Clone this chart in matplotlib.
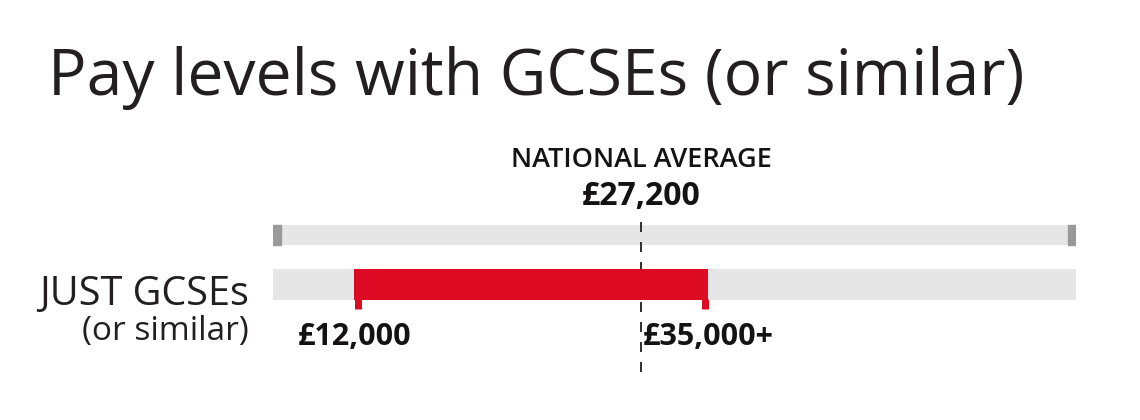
import numpy as np
import matplotlib
matplotlib.use("Agg")
import matplotlib.pyplot as plt
from matplotlib.patches import Rectangle
from matplotlib.transforms import offset_copy

plt.rcParams['font.family'] = ['Open Sans', 'DejaVu Sans']

# data
title = "Pay levels with GCSEs (or similar)"
categories = ["JUST GCSEs"]
subtitles = ["(or similar)"]
pay_low = [12000]
pay_high = [35000]
low_labels = ["£12,000"]
high_labels = ["£35,000+"]
national_avg = 27200
avg_label = "£27,200"
scale_min, scale_max = 10000, 500000   # ends of the grey scale bar

RED = "#dc0a23"
GREY = "#e6e6e6"
CAP = "#9a9a9a"
INK = "#141213"

W, H = 1140, 420
fig = plt.figure(figsize=(W / 100, H / 100), dpi=100)

# axes covers the bar area horizontally, y runs in pixels from the top
ax = fig.add_axes([273 / W, 0, 803 / W, 1])
ax.set_xscale('function', functions=(lambda x: -1 / np.sqrt(x), lambda y: 1 / y ** 2))
ax.set_xlim(scale_min, scale_max)
ax.set_ylim(H, 0)
ax.axis('off')

# grey scale bar with end caps
ax.barh(235, scale_max - scale_min, left=scale_min, height=20, color=GREY, zorder=1)
cap_w = 8 / 803
for x0 in (0, 1 - cap_w):
    ax.add_patch(Rectangle((x0, 225), cap_w, 20, color=CAP,
                           transform=ax.get_yaxis_transform(), zorder=2))

# national average dashed line
ax.vlines(national_avg, 222, 380, colors="#333333", lw=1.44,
          linestyles=(0, (5, 5)), zorder=2)

# range rows
row_y = 284.5
for i, cat in enumerate(categories):
    ax.barh(row_y, scale_max - scale_min, left=scale_min, height=31, color=GREY, zorder=1)
    ax.barh(row_y, pay_high[i] - pay_low[i], left=pay_low[i], height=31, color=RED, zorder=3)
    # small tick marks under the bar ends
    for x, dx in ((pay_low[i], 3.5), (pay_high[i], -3.5)):
        ax.plot([x, x], [299, 309], color=RED, lw=5.04, solid_capstyle='butt',
                transform=offset_copy(ax.transData, fig=fig, x=dx, y=0, units='dots'),
                zorder=3)
    ax.text(pay_low[i], 345, low_labels[i], ha='center', va='baseline',
            fontsize=22, fontweight='bold', color=INK)
    ax.text(pay_high[i], 345, high_labels[i], ha='center', va='baseline',
            fontsize=22, fontweight='bold', color=INK)
    fig.text(249 / W, 1 - 305 / H, cat, ha='right', va='baseline',
             fontsize=28.5, color="#231f20")
    fig.text(249 / W, 1 - 340 / H, subtitles[i], ha='right', va='baseline',
             fontsize=24, color="#231f20")

ax.text(national_avg, 167, "NATIONAL AVERAGE", ha='center', va='baseline',
        fontsize=19.5, fontweight='semibold', color=INK)
ax.text(national_avg, 205, avg_label, ha='center', va='baseline',
        fontsize=23, fontweight='bold', color=INK)

fig.text(48 / W, 1 - 95 / H, title, ha='left', va='baseline',
         fontsize=46.2, color="#231f20")

fig.savefig("out.png", dpi=100)
